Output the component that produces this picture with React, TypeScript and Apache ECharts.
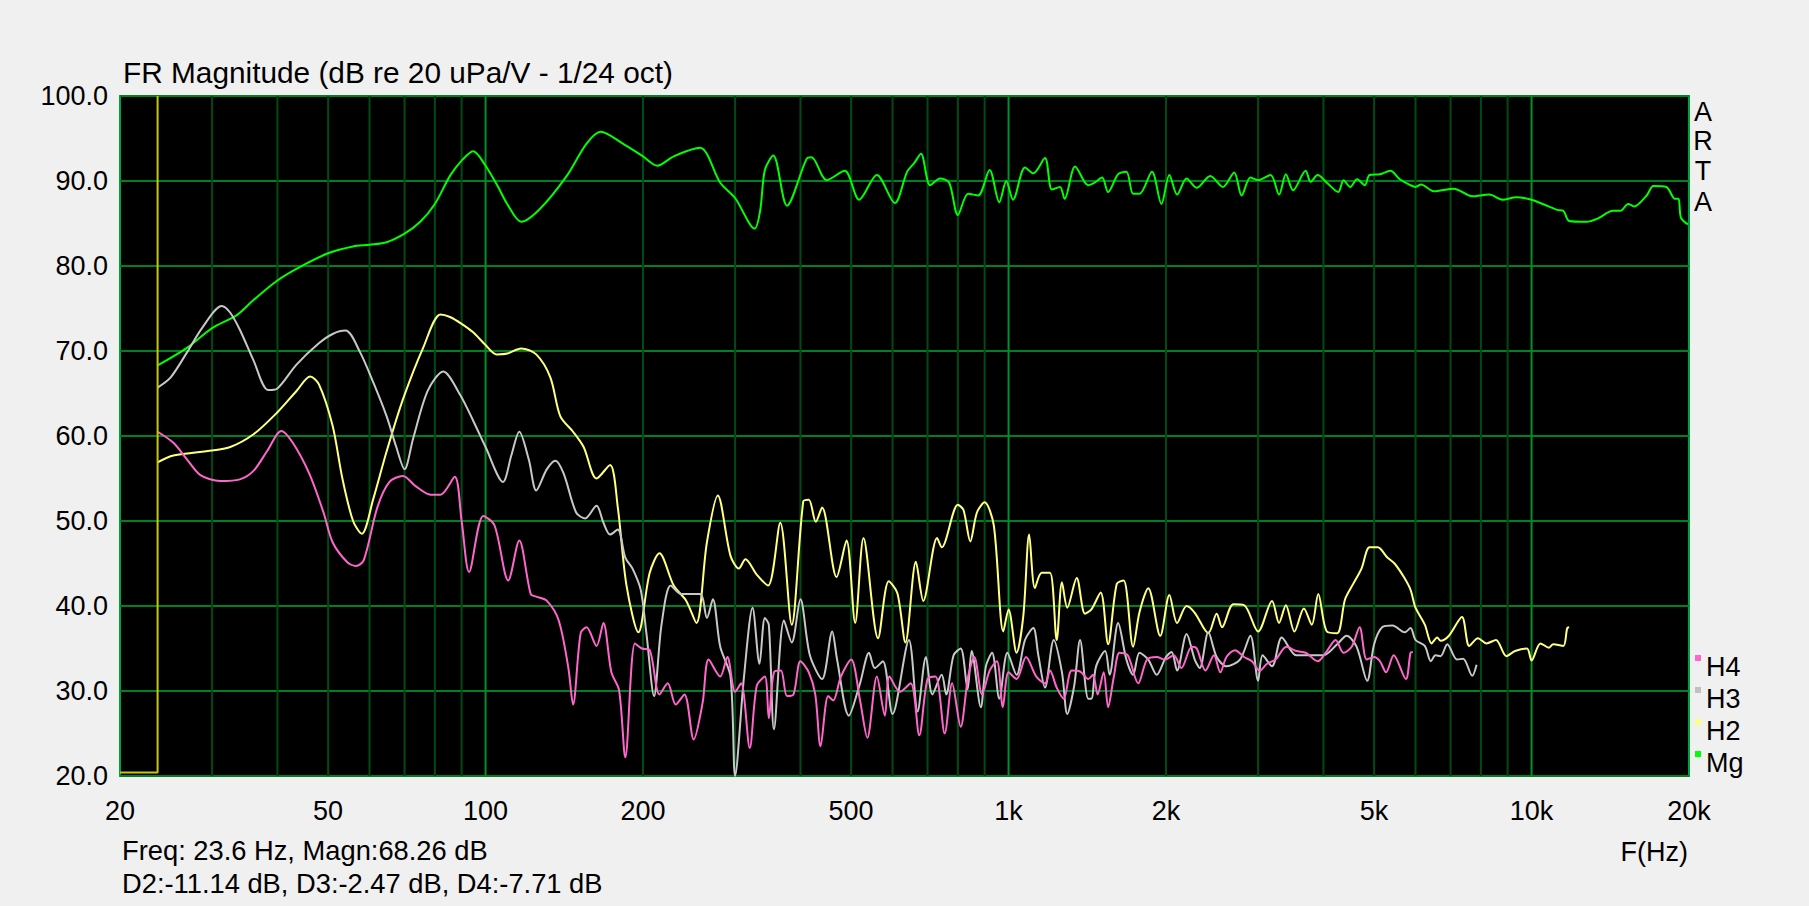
import React, { useEffect, useRef } from "react";
import * as echarts from "echarts";

const FONT = "'Liberation Sans', Arial, sans-serif";

const TITLE = "FR Magnitude (dB re 20 uPa/V - 1/24 oct)";
const INFO_1 = "Freq: 23.6 Hz, Magn:68.26 dB";
const INFO_2 = "D2:-11.14 dB, D3:-2.47 dB, D4:-7.71 dB";
const X_NAME = "F(Hz)";
const BRAND = ["A", "R", "T", "A"];

const X_TICKS = [20, 50, 100, 200, 500, 1000, 2000, 5000, 10000, 20000];
const X_TICK_LABELS = ["20", "50", "100", "200", "500", "1k", "2k", "5k", "10k", "20k"];
const GRID_FREQS = [30, 40, 50, 60, 70, 80, 90, 100, 200, 300, 400, 500, 600, 700, 800, 900, 1000, 2000, 3000, 4000, 5000, 6000, 7000, 8000, 9000, 10000];
const MAJOR_FREQS = [100, 1000, 10000];

const CURSOR_FREQ = 23.6;

const LEGEND_NAMES = ["H4", "H3", "H2", "Mg"];
const LEGEND_COLORS = ["#ff66cc", "#c0c0c0", "#ffff80", "#00ff00"];

const MG: [number, number][] = [
  [23.6, 68.3], [26.9, 70.4], [30, 72.7], [33.4, 74.2], [36, 76.0], [40, 78.3], [44.2, 79.9], [50, 81.5],
  [55.8, 82.3], [60, 82.5], [64.7, 82.8], [70, 83.8], [75, 85.2], [80, 87.3], [85.5, 90.6], [90, 92.4],
  [94.7, 93.5], [100, 91.8], [105.7, 89.3], [110, 87.3], [117, 85.2], [127, 86.7], [143, 90.6], [156, 94.4],
  [166, 95.8], [183, 94.4], [200, 92.9], [213, 91.8], [229, 92.9], [257, 93.9], [281, 89.8], [300, 88.0],
  [327, 84.4], [335, 86.5], [342, 91.3], [355, 93.0], [377, 87.1], [411, 92.6], [420, 92.8], [449, 90.1],
  [486, 91.2], [518, 87.8], [560, 90.7], [606, 87.4], [640, 91.1], [660, 92.1], [680, 93.2], [708, 89.5],
  [740, 90.3], [770, 89.8], [800, 86.0], [837, 88.5], [875, 88.3], [920, 91.3], [960, 87.5], [990, 90.0],
  [1020, 87.8], [1075, 91.6], [1115, 90.9], [1174, 92.7], [1210, 89.0], [1254, 89.3], [1280, 87.9], [1340, 91.7],
  [1400, 89.8], [1420, 89.5], [1460, 89.8], [1510, 90.4], [1550, 88.7], [1620, 90.8], [1680, 91.1], [1730, 88.5],
  [1780, 88.5], [1880, 91.1], [1960, 87.3], [2030, 90.7], [2100, 88.4], [2190, 90.3], [2290, 89.2], [2430, 90.6],
  [2570, 89.3], [2700, 91.0], [2790, 88.3], [2900, 90.4], [3000, 90.1], [3170, 90.7], [3290, 88.4], [3390, 90.8],
  [3500, 88.9], [3700, 91.2], [3780, 89.9], [3900, 90.7], [4060, 89.8], [4270, 88.7], [4370, 90.1], [4500, 89.3],
  [4640, 90.2], [4800, 89.5], [4900, 90.7], [5130, 90.8], [5370, 91.2], [5600, 90.2], [5870, 89.5], [6000, 89.3],
  [6150, 89.6], [6500, 88.8], [7100, 89.1], [7700, 88.2], [8300, 88.4], [8800, 87.8], [9350, 88.1], [10000, 87.8],
  [10500, 87.3], [11200, 86.6], [11500, 86.5], [11800, 85.3], [12750, 85.2], [13400, 85.6], [14300, 86.5], [14800, 86.5],
  [15300, 87.3], [15700, 87.0], [16600, 88.3], [17100, 89.4], [18100, 89.3], [18800, 87.9], [19100, 87.9], [19300, 85.7],
  [19900, 84.9],
];

const H2: [number, number][] = [
  [23.6, 56.9], [25.3, 57.7], [30, 58.3], [32.5, 58.7], [36, 60.2], [40, 62.8], [43.5, 65.3], [46.2, 67.0],
  [48, 66.1], [51, 61.2], [53.2, 55.1], [55.8, 50.0], [58, 48.5], [61, 52.6], [64.7, 58.2], [69.5, 64.3],
  [76, 70.4], [82, 74.3], [85.5, 74.0], [90, 73.2], [94.7, 72.2], [100, 70.7], [105, 69.6], [110, 69.7],
  [117, 70.3], [125, 69.6], [133, 66.9], [139, 62.3], [147, 60.5], [154, 58.7], [163, 55.0], [173, 56.6],
  [179, 51.6], [186, 42.4], [196, 36.9], [206, 43.9], [215, 46.2], [229, 42.4], [242, 40.6], [253, 38.0],
  [265, 47.5], [278, 53.0], [294, 45.9], [305, 44.4], [314, 45.5], [330, 43.7], [347, 42.4], [366, 49.8],
  [385, 37.8], [405, 52.3], [415, 52.5], [428, 49.9], [440, 51.6], [469, 43.4], [490, 47.7], [509, 38.0],
  [528, 48.0], [563, 36.2], [590, 42.9], [613, 41.5], [635, 35.7], [665, 45.2], [687, 40.6], [730, 48.0],
  [745, 46.9], [800, 51.9], [820, 51.3], [845, 47.6], [870, 51.0], [900, 52.2], [937, 49.5], [977, 37.0],
  [1000, 39.6], [1036, 34.5], [1067, 38.8], [1095, 48.4], [1123, 42.1], [1157, 43.9], [1200, 43.9], [1236, 36.0],
  [1265, 42.8], [1295, 39.8], [1350, 43.3], [1400, 39.1], [1440, 39.6], [1500, 41.6], [1550, 35.5], [1610, 42.6],
  [1660, 43.0], [1730, 35.2], [1780, 39.3], [1850, 42.1], [1950, 36.5], [2030, 41.3], [2100, 38.0], [2190, 40.0],
  [2270, 39.2], [2410, 36.8], [2500, 39.1], [2560, 37.5], [2690, 40.2], [2820, 40.1], [3000, 37.0], [3190, 40.6],
  [3290, 38.0], [3390, 40.1], [3520, 37.0], [3670, 39.7], [3800, 37.8], [3910, 41.4], [4060, 37.0], [4250, 36.8],
  [4400, 40.8], [4560, 42.6], [4730, 44.4], [4900, 46.9], [5080, 46.9], [5300, 45.7], [5470, 45.0], [5700, 43.4],
  [5870, 41.9], [6000, 39.8], [6250, 37.8], [6440, 35.6], [6600, 36.3], [6700, 35.9], [6950, 36.5], [7360, 38.7],
  [7600, 35.3], [7900, 36.2], [8200, 35.6], [8550, 36.0], [8950, 34.1], [9300, 34.7], [9800, 35.0], [10000, 33.6],
  [10400, 35.6], [10800, 35.1], [11000, 35.5], [11500, 35.3], [11700, 37.4], [11800, 37.5],
];

const H3: [number, number][] = [
  [23.6, 65.7], [25, 66.9], [26.9, 69.9], [28.7, 72.7], [31.3, 75.3], [32.5, 74.5], [33.9, 72.5], [36, 68.9],
  [38.4, 65.4], [40, 65.6], [43.5, 68.4], [48, 70.9], [51, 72.0], [54, 72.4], [57.5, 69.9], [61, 66.3],
  [64.7, 62.3], [67.5, 58.7], [70, 56.1], [72.7, 59.7], [77.5, 65.3], [83, 67.6], [89.5, 64.8], [94.7, 61.8],
  [100, 58.7], [108, 54.6], [112, 57.7], [116, 60.5], [121, 57.2], [125, 53.6], [131, 56.1], [136, 57.1],
  [141, 55.6], [149, 51.0], [155, 50.3], [163, 51.8], [168, 49.8], [173, 48.4], [179, 49.0], [185, 45.7],
  [191, 44.4], [198, 41.9], [203, 36.8], [210, 29.4], [217, 37.8], [226, 42.4], [237, 41.4], [257, 41.4],
  [265, 38.6], [272, 40.8], [281, 35.2], [294, 31.7], [300, 20.0], [312, 31.7], [324, 39.8], [334, 33.2],
  [342, 38.6], [348, 37.8], [356, 25.5], [372, 38.3], [385, 35.7], [400, 40.8], [417, 34.2], [440, 31.4],
  [460, 37.0], [470, 33.7], [495, 27.1], [520, 30.9], [541, 34.5], [555, 32.7], [575, 33.5], [600, 27.3],
  [645, 36.0], [670, 27.6], [695, 34.0], [715, 29.6], [745, 31.9], [760, 29.6], [785, 34.2], [810, 35.0],
  [835, 30.2], [850, 34.7], [885, 28.1], [905, 32.9], [930, 34.5], [960, 29.1], [995, 34.5], [1036, 31.9],
  [1075, 36.0], [1115, 37.4], [1140, 34.2], [1174, 30.4], [1220, 36.0], [1265, 32.2], [1295, 27.3], [1335, 30.6],
  [1370, 36.0], [1420, 29.1], [1440, 29.1], [1470, 32.9], [1530, 34.7], [1560, 31.9], [1620, 38.0], [1680, 33.7],
  [1730, 31.9], [1780, 34.5], [1850, 33.7], [1920, 31.9], [2000, 34.0], [2050, 34.6], [2100, 32.4], [2190, 36.7],
  [2270, 33.7], [2320, 32.7], [2410, 36.9], [2500, 34.0], [2610, 32.9], [2770, 33.7], [2900, 36.5], [3000, 31.2],
  [3060, 34.2], [3190, 32.9], [3330, 36.3], [3550, 34.2], [3770, 34.2], [4000, 34.2], [4250, 35.5], [4430, 36.5],
  [4630, 35.2], [4850, 31.2], [5000, 35.5], [5180, 37.5], [5420, 37.7], [5720, 36.9], [5870, 37.4], [6000, 36.0],
  [6250, 35.3], [6420, 33.5], [6550, 34.2], [6700, 34.1], [6900, 35.5], [7200, 33.7], [7400, 33.8], [7700, 31.8],
  [7850, 33.1],
];

const H4: [number, number][] = [
  [23.6, 60.5], [25.3, 59.2], [26.9, 57.2], [28.5, 55.4], [31.1, 54.7], [33.9, 54.9], [36, 55.9], [38.2, 58.2],
  [40.7, 60.6], [42.8, 59.2], [46, 55.6], [49, 51.0], [51, 47.5], [54.3, 45.2], [56.5, 44.7], [58.5, 45.4],
  [62.1, 51.6], [65.5, 54.6], [69.5, 55.3], [73.5, 54.1], [78.5, 53.1], [82, 53.1], [87.3, 55.2], [90, 50.0],
  [93, 44.0], [99, 50.6], [104, 49.5], [110.5, 43.0], [116, 47.7], [122, 41.4], [125, 41.1], [131, 40.6],
  [138, 38.3], [144, 32.7], [147, 28.4], [152, 36.8], [156, 37.5], [163, 35.3], [168, 38.0], [174, 32.2],
  [180, 30.1], [185, 22.2], [193, 35.6], [199, 35.0], [206, 34.8], [215, 29.6], [223, 30.9], [231, 28.4],
  [240, 29.6], [250, 24.3], [260, 28.6], [267, 33.7], [281, 31.7], [290, 34.0], [300, 29.9], [308, 30.9],
  [320, 23.3], [330, 30.6], [342, 31.7], [348, 26.8], [356, 32.2], [367, 32.4], [377, 29.4], [388, 29.6],
  [400, 33.5], [415, 32.2], [427, 29.6], [437, 23.5], [452, 29.4], [462, 28.9], [478, 31.7], [500, 33.7],
  [520, 28.9], [537, 24.5], [560, 31.7], [580, 27.1], [592, 31.7], [620, 29.9], [650, 30.9], [675, 24.8],
  [700, 31.4], [725, 31.7], [755, 25.0], [780, 30.9], [810, 25.8], [837, 31.7], [860, 34.0], [890, 29.6],
  [920, 32.4], [950, 33.5], [975, 28.1], [1000, 32.2], [1036, 31.4], [1080, 34.0], [1130, 31.7], [1174, 30.9],
  [1200, 32.4], [1236, 30.4], [1275, 29.1], [1320, 32.4], [1370, 32.3], [1420, 31.4], [1450, 31.9], [1480, 29.6],
  [1520, 32.2], [1550, 28.1], [1590, 31.7], [1630, 34.5], [1690, 34.2], [1770, 30.9], [1840, 33.7], [1920, 34.0],
  [1990, 33.7], [2070, 34.2], [2140, 32.7], [2240, 35.2], [2290, 35.0], [2380, 32.4], [2470, 34.2], [2540, 32.2],
  [2610, 34.0], [2710, 34.8], [2820, 34.0], [2920, 33.5], [3020, 32.4], [3120, 33.2], [3240, 33.7], [3400, 35.2],
  [3550, 34.7], [3700, 34.5], [3900, 33.5], [4060, 34.7], [4220, 36.0], [4370, 34.5], [4530, 35.2], [4690, 37.5],
  [4840, 33.7], [5000, 34.0], [5130, 33.5], [5270, 32.2], [5450, 34.2], [5750, 31.4], [5870, 34.5], [5930, 34.6],
];

const CURSOR: [number, number][] = [[20, 20.4], [CURSOR_FREQ, 20.4], [CURSOR_FREQ, 100]];

function txt(x: number, y: number, text: string, size: number, align: string = "left", color: string = "#000") {
  return {
    type: "text",
    x,
    y,
    z: 50,
    silent: true,
    style: {
      text,
      fill: color,
      fontSize: size,
      fontFamily: FONT,
      align,
      verticalAlign: "middle",
      textAlign: align,
      textVerticalAlign: "middle",
    },
  };
}

export default function App() {
  const ref = useRef<HTMLDivElement>(null);

  useEffect(() => {
    if (!ref.current) return;
    const chart = echarts.init(ref.current, null, { renderer: "svg" });

    const lineSeries = (name: string, data: [number, number][], color: string) => ({
      name,
      type: "line",
      data,
      showSymbol: false,
      symbol: "none",
      smooth: 0.3,
      clip: true,
      z: 5,
      lineStyle: { color, width: 2 },
      emphasis: { disabled: true },
    });

    chart.setOption({
      animation: false,
      backgroundColor: "#f0f0f0",
      grid: {
        left: 120,
        top: 96,
        width: 1569,
        height: 680,
        show: true,
        backgroundColor: "#000000",
        borderColor: "#00a03c",
        borderWidth: 2,
        containLabel: false,
      },
      xAxis: {
        type: "log",
        logBase: 10,
        min: 20,
        max: 20000,
        axisLabel: { show: false },
        axisTick: { show: false },
        axisLine: { show: false },
        splitLine: { show: false },
      },
      yAxis: {
        type: "value",
        min: 20,
        max: 100,
        interval: 10,
        axisLine: { show: false },
        axisTick: { show: false },
        axisLabel: {
          formatter: (v: number) => v.toFixed(1),
          fontSize: 27,
          fontFamily: FONT,
          color: "#000",
          margin: 12,
        },
        splitLine: { show: true, lineStyle: { color: "#00801e", width: 2 } },
      },
      series: [
        {
          name: "vgrid",
          type: "custom",
          z: 1,
          silent: true,
          data: GRID_FREQS.map((f) => [f, MAJOR_FREQS.includes(f) ? 1 : 0]),
          encode: { x: 0 },
          renderItem: (_p: any, api: any) => {
            const f = api.value(0);
            const major = api.value(1);
            const a = api.coord([f, 20]);
            const b = api.coord([f, 100]);
            return {
              type: "line",
              shape: { x1: a[0], y1: a[1], x2: b[0], y2: b[1] },
              style: { stroke: major ? "#00902a" : "#004a14", lineWidth: 2 },
            };
          },
        },
        lineSeries("Mg", MG, "#00ff00"),
        lineSeries("H2", H2, "#ffff80"),
        lineSeries("H3", H3, "#c8c8c8"),
        lineSeries("H4", H4, "#ff66cc"),
        {
          name: "cursor",
          type: "line",
          data: CURSOR,
          showSymbol: false,
          symbol: "none",
          z: 6,
          lineStyle: { color: "#c8c800", width: 2 },
          silent: true,
        },
      ],
    });

    const graphics: any[] = [];
    graphics.push(txt(123, 72, TITLE, 29.8));
    graphics.push(txt(122, 850, INFO_1, 27.3));
    graphics.push(txt(122, 883, INFO_2, 27.3));
    graphics.push(txt(1688, 852, X_NAME, 27, "right"));
    const brandY = [112, 141, 171, 202];
    BRAND.forEach((ch, i) => graphics.push(txt(1703, brandY[i], ch, 27, "center")));
    X_TICKS.forEach((f, i) => {
      const px = chart.convertToPixel({ xAxisIndex: 0 }, f) as number;
      graphics.push(txt(px, 811, X_TICK_LABELS[i], 27, "center"));
    });
    LEGEND_NAMES.forEach((name, i) => {
      const cy = 667 + i * 32;
      graphics.push({
        type: "rect",
        z: 50,
        silent: true,
        shape: { x: 1695, y: cy - 12, width: 6, height: 6 },
        style: { fill: LEGEND_COLORS[i] },
      });
      graphics.push(txt(1706, cy, name, 27));
    });
    chart.setOption({ graphic: graphics });

    return () => chart.dispose();
  }, []);

  return (
    <div
      ref={ref}
      style={{ position: "fixed", left: 0, top: 0, width: 1809, height: 906, background: "#f0f0f0" }}
    />
  );
}
